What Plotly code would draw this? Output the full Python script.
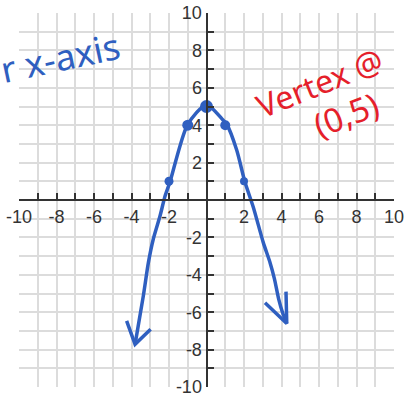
import plotly.graph_objects as go

# tick labels (0 is left blank on both axes)
tick_vals = [-10, -8, -6, -4, -2, 2, 4, 6, 8, 10]
tick_text = ['-10', '-8', '-6', '-4', '-2', '2', '4', '6', '8', '10']

# the plotted points of y = -x^2 + 5
pts_x = [-2, -1, 0, 1, 2]
pts_y = [1, 4, 5, 4, 1]
pts_size = [9, 11, 13, 10, 8]

# hand drawn curve
curve_x = [-3.81, -3.37, -3.10, -2.84, -2.48, -2.21, -1.95, -1.02, 0.0, 0.88, 1.08, 1.61, 2.05, 2.5, 3.03, 3.39, 3.62, 3.85, 4.05, 4.28]
curve_y = [-7.72, -5.13, -3.35, -2.10, -0.86, 0.21, 0.96, 4.01, 5.1, 4.28, 4.05, 2.67, 0.96, -0.4, -2.28, -3.35, -4.2, -5.3, -6.0, -6.6]

# arrow heads: wing, tip, wing
left_head_x = [-4.26, -3.81, -2.98]
left_head_y = [-6.46, -7.72, -6.91]
right_head_x = [3.12, 4.28, 4.24]
right_head_y = [-5.49, -6.6, -4.9]

blue = '#2f5fc0'
red = '#e51f2b'

fig = go.Figure()
fig.add_trace(go.Scatter(x=curve_x, y=curve_y, mode='lines',
                         line=dict(color=blue, width=3.5, shape='spline', smoothing=0.7)))
fig.add_trace(go.Scatter(x=left_head_x, y=left_head_y, mode='lines',
                         line=dict(color=blue, width=3.5)))
fig.add_trace(go.Scatter(x=right_head_x, y=right_head_y, mode='lines',
                         line=dict(color=blue, width=3.5)))
fig.add_trace(go.Scatter(x=pts_x, y=pts_y, mode='markers',
                         marker=dict(color=blue, size=pts_size, opacity=1, line=dict(width=0))))

axis_style = dict(
    range=[-10, 10], tickvals=tick_vals, ticktext=tick_text,
    anchor='free', position=0.5, automargin=False,
    showline=True, linecolor='#333333', linewidth=2,
    ticks='inside', ticklen=6, tickwidth=2, tickcolor='#333333',
    showgrid=True, gridcolor='#dcdcdc', gridwidth=2,
    zeroline=False,
    minor=dict(dtick=1, tick0=0, ticks='inside', ticklen=6, tickwidth=2, tickcolor='#333333',
               showgrid=True, gridcolor='#dcdcdc', gridwidth=2),
    tickfont=dict(family='Liberation Sans', size=18, color='#333333'),
    ticklabeloverflow='allow',
    fixedrange=True,
)
fig.update_layout(
    width=404, height=396,
    margin=dict(l=19, r=10, t=13, b=9, autoexpand=False),
    plot_bgcolor='white', paper_bgcolor='white',
    showlegend=False,
    xaxis=axis_style,
    yaxis=axis_style,
)

fig.add_annotation(x=-7.8, y=7.6, text='r x-axis', showarrow=False, textangle=-12,
                   font=dict(family='Noto Sans', size=36, color=blue))
fig.add_annotation(x=6.0, y=6.3, text='Vertex @', showarrow=False, textangle=-22,
                   font=dict(family='Noto Sans', size=32, color=red))
fig.add_annotation(x=7.45, y=4.55, text='(0,5)', showarrow=False, textangle=-21,
                   font=dict(family='Noto Sans', size=33, color=red))

# page body has an 8px margin by default, drop it so the figure fills the window
fig.write_html("out.html", config={'displayModeBar': False},
               post_script="document.body.style.margin='0px';")
